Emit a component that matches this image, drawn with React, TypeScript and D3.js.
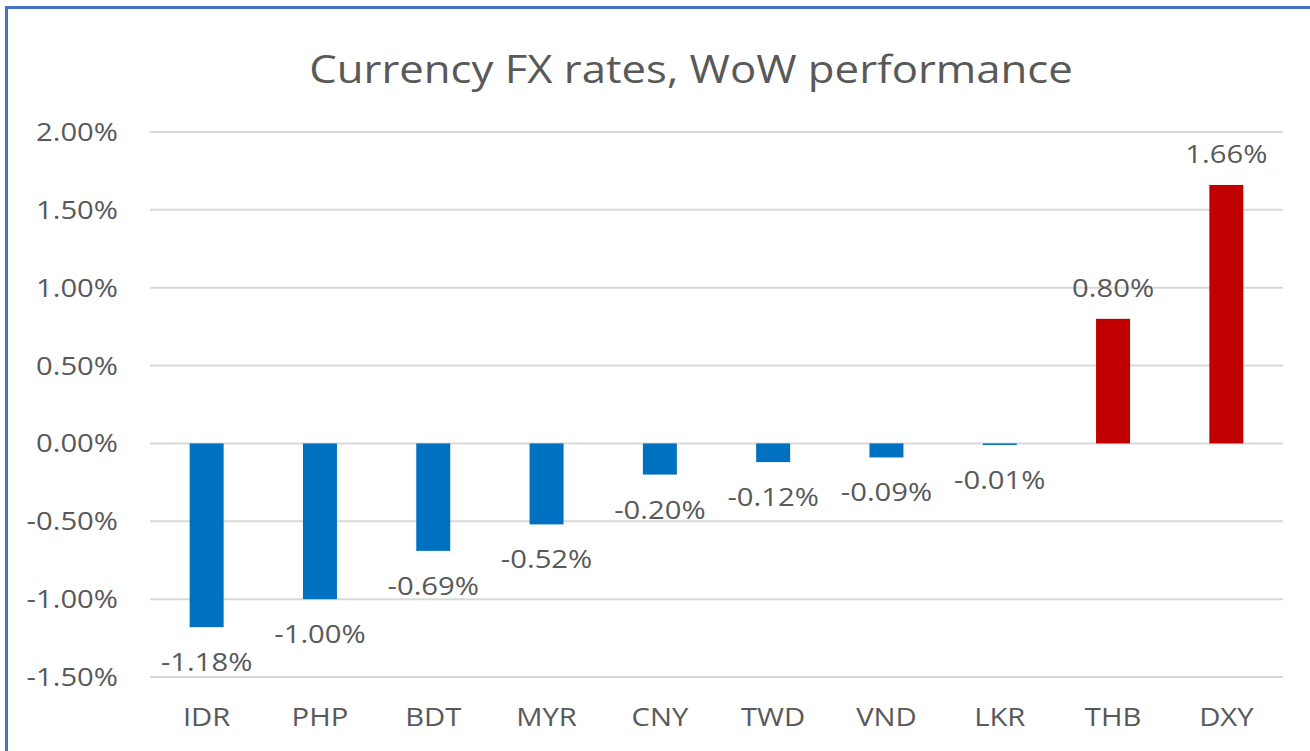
import React from "react";
import * as d3 from "d3";

const categories = ["IDR", "PHP", "BDT", "MYR", "CNY", "TWD", "VND", "LKR", "THB", "DXY"];
const values = [-1.18, -1.0, -0.69, -0.52, -0.2, -0.12, -0.09, -0.01, 0.8, 1.66];
const yTicks = [-1.5, -1.0, -0.5, 0, 0.5, 1.0, 1.5, 2.0];
const title = "Currency FX rates, WoW performance";

const W = 1310;
const H = 751;
const FONT = "'Open Sans', sans-serif";
const TEXT = "#595959";

function Label({ x, y, anchor = "middle", size = 25, sx = 1.17, dy, children }: any) {
  return (
    <text
      transform={`translate(${x},${y}) scale(${sx},1)`}
      dy={dy}
      textAnchor={anchor}
      fontFamily={FONT}
      fontSize={size}
      fill={TEXT}
    >
      {children}
    </text>
  );
}

export default function App() {
  const x = d3.scaleBand<string>().domain(categories).range([150, 1283]).paddingInner(0.7).paddingOuter(0.35);
  const y = d3.scaleLinear().domain([-1.5, 2]).range([677, 132]);
  const fmt = (v: number) => `${v.toFixed(2)}%`;
  return (
    <svg width={W} height={H} style={{ position: "absolute", left: 0, top: 0, background: "#fff" }}>
      <rect x={0} y={0} width={W} height={H} fill="#fff" />
      <rect x={6.5} y={7.5} width={W + 20} height={H + 20} fill="none" stroke="#4472C4" strokeWidth={3} />
      <Label x={691} y={83} size={38} sx={1.15}>
        {title}
      </Label>
      {yTicks.map((t) => (
        <g key={t}>
          <line x1={150} x2={1283} y1={y(t)} y2={y(t)} stroke="#d9d9d9" strokeWidth={2} />
          <Label x={118} y={y(t)} dy="0.36em" anchor="end">
            {fmt(t)}
          </Label>
        </g>
      ))}
      {categories.map((c, i) => {
        const v = values[i];
        const bx = x(c)!;
        const bw = x.bandwidth();
        const y0 = y(0);
        const y1 = y(v);
        return (
          <g key={c}>
            <rect
              x={bx}
              y={Math.min(y0, y1)}
              width={bw}
              height={Math.abs(y1 - y0)}
              fill={v >= 0 ? "#C00000" : "#0070C0"}
            />
            <Label x={bx + bw / 2} y={v >= 0 ? y1 - 22 : y1 + 44}>
              {fmt(v)}
            </Label>
            <Label x={bx + bw / 2} y={726}>
              {c}
            </Label>
          </g>
        );
      })}
    </svg>
  );
}
